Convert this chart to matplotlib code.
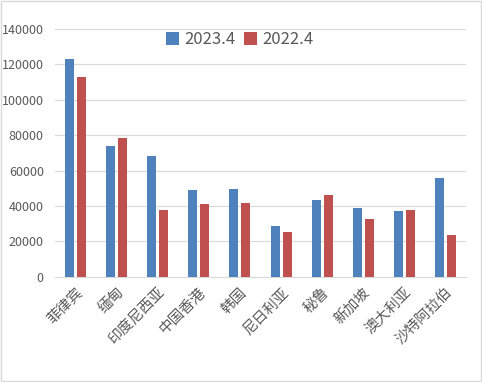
import numpy as np
import matplotlib
matplotlib.use("Agg")
import matplotlib.pyplot as plt
from matplotlib.patches import Rectangle

plt.rcParams['font.family'] = ['Noto Sans CJK SC', 'DejaVu Sans']

# Daten
countries = ['菲律宾', '缅甸', '印度尼西亚', '中国香港', '韩国',
             '尼日利亚', '秘鲁', '新加坡', '澳大利亚', '沙特阿拉伯']
v2023 = [122800, 74000, 68300, 49000, 49600, 28700, 43400, 38900, 37200, 55800]
v2022 = [112700, 78500, 37800, 41100, 41700, 25300, 46200, 32700, 37700, 23600]

blue = '#4f81bd'
red = '#c0504d'
grey = '#595959'

fig = plt.figure(figsize=(4.82, 3.82), dpi=100)
ax = fig.add_axes([0.114, 0.275, 0.853, 0.65])

x = np.arange(len(countries))
w = 0.22
ax.bar(x - 0.146, v2023, w, color=blue, label='2023.4', zorder=3)
ax.bar(x + 0.146, v2022, w, color=red, label='2022.4', zorder=3)

ax.set_xlim(-0.5, len(countries) - 0.5)
ax.set_ylim(0, 140000)
ax.set_yticks(np.arange(0, 140001, 20000))
ax.yaxis.grid(True, color='#d9d9d9', linewidth=0.8, zorder=0)
for s in ['top', 'right', 'left']:
    ax.spines[s].set_visible(False)
ax.spines['bottom'].set_color('#d9d9d9')
ax.tick_params(axis='both', length=0, colors=grey, labelsize=9)
ax.tick_params(axis='y', pad=8)
ax.tick_params(axis='x', pad=6)
ax.set_xticks(x)
ax.set_xticklabels(countries, rotation=45, ha='right', rotation_mode='anchor', fontsize=10.5)

leg = ax.legend(loc='center', bbox_to_anchor=(0.45, 0.955), ncol=2, frameon=False,
                fontsize=12, handlelength=0.75, handleheight=0.75, handletextpad=0.35,
                columnspacing=0.5)
for t in leg.get_texts():
    t.set_color(grey)

# Rahmen um die Grafik
fig.patches.append(Rectangle((0.002, 0.002), 0.996, 0.996, transform=fig.transFigure,
                             fill=False, edgecolor='#d9d9d9', linewidth=1))

fig.savefig('out.png', dpi=100)
